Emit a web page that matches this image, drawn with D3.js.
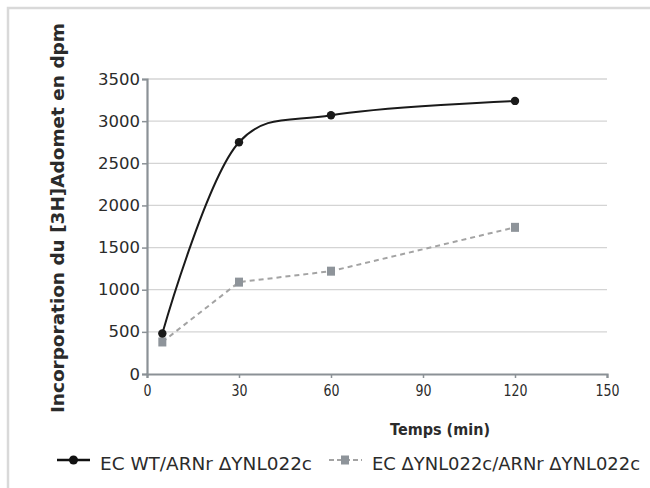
<!DOCTYPE html>
<html><head><meta charset="utf-8">
<script src="https://cdn.jsdelivr.net/npm/d3@7"></script>
<style>body{margin:0;background:#fff}svg{display:block}text{font-family:"DejaVu Sans",sans-serif;fill:#2b2b2b}</style>
</head><body><svg id="c" width="650" height="488"></svg>
<script>
const times = [5, 30, 60, 120];
const wtValues = [480, 2750, 3070, 3240];
const mutValues = [380, 1090, 1220, 1740];
const yTicks = [0, 500, 1000, 1500, 2000, 2500, 3000, 3500];
const xTicks = [0, 30, 60, 90, 120, 150];
const seriesNames = ["EC WT/ARNr ΔYNL022c", "EC ΔYNL022c/ARNr ΔYNL022c"];

const svg = d3.select("#c");
// frame
svg.append("path").attr("d","M8,488 V8 H650").attr("fill","none").attr("stroke","#d9d9d9").attr("stroke-width",2.5);

const x = d3.scaleLinear().domain([0,150]).range([147,607]);
const y = d3.scaleLinear().domain([0,3500]).range([374,79]);

// gridlines
svg.append("g").selectAll("line").data(yTicks.filter(d=>d>0)).join("line")
  .attr("x1",x(0)).attr("x2",x(150)).attr("y1",d=>y(d)).attr("y2",d=>y(d))
  .attr("stroke","#d4d4d4").attr("stroke-width",1.3);

const axisColor = "#8b9196";
const yAxis = svg.append("g").attr("transform",`translate(${x(0)},0)`)
  .call(d3.axisLeft(y).tickValues(yTicks).tickSize(5).tickPadding(2).tickFormat(d3.format("d")));
const xAxis = svg.append("g").attr("transform",`translate(0,${y(0)})`)
  .call(d3.axisBottom(x).tickValues(xTicks).tickSize(4).tickPadding(7).tickFormat(d3.format("d")));
[yAxis,xAxis].forEach(g=>{
  g.select(".domain").attr("stroke",axisColor).attr("stroke-width",2.2);
  g.selectAll(".tick line").attr("stroke",axisColor).attr("stroke-width",1.5);
  g.selectAll("text").attr("fill","#2b2b2b").style("font-family","DejaVu Sans, sans-serif");
});
yAxis.selectAll("text").attr("font-size",16)
  .attr("textLength",function(){return this.textContent.length*10.5;}).attr("lengthAdjust","spacingAndGlyphs");
xAxis.selectAll("text").attr("font-size",16)
  .attr("textLength",function(){return this.textContent.length*8;}).attr("lengthAdjust","spacingAndGlyphs");

// titles
svg.append("text").attr("transform",`translate(64,218) rotate(-90)`).attr("text-anchor","middle")
  .attr("font-size",17).attr("font-weight","bold")
  .attr("textLength",390).attr("lengthAdjust","spacingAndGlyphs")
  .text("Incorporation du [3H]Adomet en dpm");
svg.append("text").attr("x",440).attr("y",435).attr("text-anchor","middle")
  .attr("font-size",16).attr("font-weight","bold")
  .attr("textLength",100).attr("lengthAdjust","spacingAndGlyphs")
  .text("Temps (min)");

// series
const wt = times.map((t,i)=>[t,wtValues[i]]);
const mut = times.map((t,i)=>[t,mutValues[i]]);
svg.append("path").datum(mut).attr("fill","none").attr("stroke","#a3a3a3").attr("stroke-width",2)
  .attr("stroke-dasharray","5,4")
  .attr("d",d3.line().x(d=>x(d[0])).y(d=>y(d[1])));
svg.append("g").selectAll("rect").data(mut).join("rect")
  .attr("x",d=>x(d[0])-4).attr("y",d=>y(d[1])-4.5).attr("width",8).attr("height",9).attr("fill","#8e949a");
svg.append("path").datum(wt).attr("fill","none").attr("stroke","#1a1a1a").attr("stroke-width",2)
  .attr("d",d3.line().curve(d3.curveCatmullRom.alpha(0.25)).x(d=>x(d[0])).y(d=>y(d[1])));
svg.append("g").selectAll("circle").data(wt).join("circle")
  .attr("cx",d=>x(d[0])).attr("cy",d=>y(d[1])).attr("r",4.2).attr("fill","#1a1a1a");

// legend
const lg = svg.append("g");
lg.append("line").attr("x1",57).attr("x2",90).attr("y1",460).attr("y2",460).attr("stroke","#111").attr("stroke-width",2.5);
lg.append("circle").attr("cx",73.5).attr("cy",460).attr("r",4.5).attr("fill","#111");
lg.append("text").attr("x",100).attr("y",470).attr("font-size",17)
  .attr("textLength",212).attr("lengthAdjust","spacingAndGlyphs").text(seriesNames[0]);
lg.append("line").attr("x1",329).attr("x2",362).attr("y1",460).attr("y2",460).attr("stroke","#a3a3a3").attr("stroke-width",2).attr("stroke-dasharray","5,3");
lg.append("rect").attr("x",341).attr("y",455.5).attr("width",8).attr("height",9).attr("fill","#8e949a");
lg.append("text").attr("x",372).attr("y",470).attr("font-size",17)
  .attr("textLength",268).attr("lengthAdjust","spacingAndGlyphs").text(seriesNames[1]);
</script></body></html>
